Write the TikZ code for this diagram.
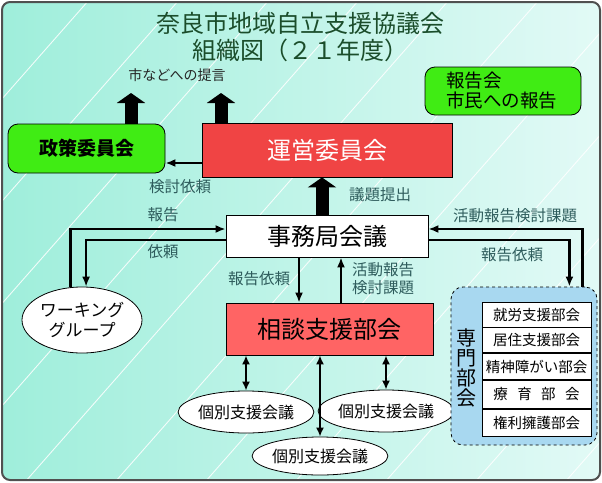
\documentclass[tikz,border=0pt]{standalone}
\usepackage{fontspec}
\newfontfamily\jpfont{Noto Sans CJK JP}
\usetikzlibrary{arrows.meta, positioning, shapes.geometric}
\definecolor{bgLeft}{HTML}{9FEEDB}
\definecolor{bgRight}{HTML}{E2FAF6}
\definecolor{frameGray}{HTML}{505050}
\definecolor{titleGreen}{HTML}{1B4D2B}
\definecolor{labelTeal}{HTML}{2E5C5C}
\definecolor{boxGreen}{HTML}{40EC14}
\definecolor{boxRed}{HTML}{F04444}
\definecolor{boxPink}{HTML}{FF6464}
\definecolor{groupBlue}{HTML}{A8D8F0}

\begin{document}
\begin{tikzpicture}[x=1pt, y=-1pt, font=\jpfont,
  lbl/.style={text=labelTeal, font=\jpfont\fontsize{15.5}{18}\selectfont, inner sep=0pt},
  arr/.style={-{Latex[length=10pt,width=8pt]}, line width=2.6pt},
  darr/.style={{Latex[length=9pt,width=8pt]}-{Latex[length=9pt,width=8pt]}, line width=2.4pt},
  fat/.style={-{Triangle[length=10pt,width=28pt]}, line width=13pt},
  oval/.style={ellipse, draw, fill=white, line width=0.8pt, inner sep=0pt},
  rowbox/.style={draw, fill=white, line width=0.8pt, minimum width=109pt, inner sep=0pt,
    font=\jpfont\fontsize{14.5}{17}\selectfont}]
  \useasboundingbox (0,0) rectangle (602,482);
  % fondo
  \fill[rounded corners=8pt, left color=bgLeft, right color=bgRight] (2,2) rectangle (600,480);
  \begin{scope}
    \clip[rounded corners=8pt] (2,2) rectangle (600,480);
    \foreach \k in {0,...,10}
      \draw[white, line width=0.9pt, opacity=0.85] (-335+\k*90,482) -- ++(424,-482);
  \end{scope}
  \draw[frameGray, line width=2pt, rounded corners=8pt] (2,2) rectangle (600,480);

  % titulo
  \node[text=titleGreen, align=center, font=\jpfont\fontsize{24}{27}\selectfont] (title) at (300,37)
    {奈良市地域自立支援協議会\\組織図（２１年度）};
  \node[font=\jpfont\fontsize{14}{16}\selectfont, text=black!85] (teigen) at (177,75) {市などへの提言};

  % cajas
  \node[draw, fill=boxGreen, rounded corners=10pt, line width=0.8pt, minimum width=157pt, minimum height=49pt,
    font=\jpfont\bfseries\fontsize{19}{22}\selectfont] (seisaku) at (86.5,148.5) {政策委員会};
  \node[draw, fill=boxRed, line width=0.8pt, minimum width=250pt, minimum height=54pt, text=white,
    font=\jpfont\fontsize{24}{27}\selectfont] (unei) at (327,150) {運営委員会};
  \node[draw, fill=boxGreen, rounded corners=10pt, line width=0.8pt, minimum height=48pt,
    text width=114pt, inner xsep=21pt, align=left,
    font=\jpfont\fontsize{18.5}{20}\selectfont] (houkokukai) at (503,91) {報告会\\市民への報告};
  \node[draw, fill=white, line width=0.8pt, minimum width=202pt, minimum height=42pt,
    font=\jpfont\fontsize{24}{27}\selectfont] (jimu) at (327,236) {事務局会議};
  \node[draw, fill=boxPink, line width=0.8pt, minimum width=207pt, minimum height=52pt,
    font=\jpfont\fontsize{24}{27}\selectfont] (soudan) at (329.5,329) {相談支援部会};
  \node[oval, minimum width=120pt, minimum height=66pt, align=center,
    font=\jpfont\fontsize{17}{20}\selectfont] (wg) at (82,320) {ワーキング\\グループ};
  \node[oval, minimum width=118pt, minimum height=42pt, font=\jpfont\fontsize{16}{19}\selectfont] (k1) at (246,412) {個別支援会議};
  \node[oval, minimum width=124pt, minimum height=42pt, font=\jpfont\fontsize{16}{19}\selectfont] (k2) at (386,411) {個別支援会議};
  \node[oval, minimum width=122pt, minimum height=38pt, font=\jpfont\fontsize{16}{19}\selectfont] (k3) at (320,456) {個別支援会議};

  %専門部会
  \node[draw, dashed, fill=groupBlue, rounded corners=12pt, line width=0.8pt,
    minimum width=146pt, minimum height=158pt] (senmon) at (524,366) {};
  \node[align=center, font=\jpfont\fontsize{20}{20}\selectfont] (senmonLbl) at (466,368) {専\\門\\部\\会};
  \node[rowbox, minimum height=25pt] (r1) at (536.5,314.5) {就労支援部会};
  \node[rowbox, minimum height=25pt, below=0pt of r1] (r2) {居住支援部会};
  \node[rowbox, minimum height=26pt, below=0pt of r2] (r3) {精神障がい部会};
  \node[rowbox, minimum height=28pt, below=0pt of r3] (r4) {療\hspace{0.65em}育\hspace{0.65em}部\hspace{0.65em}会};
  \node[rowbox, minimum height=27pt, below=0pt of r4] (r5) {権利擁護部会};

  % flechas gruesas
  \coordinate (tipA) at (131,93);
  \coordinate (tipB) at (221,93);
  \draw[fat] (seisaku.north -| tipA) -- (tipA);
  \draw[fat] (unei.north -| tipB) -- (tipB);
  \draw[fat] ([xshift=-5pt]jimu.north) -- ([xshift=-5pt]unei.south);

  % flechas finas
  \coordinate (kA) at ([yshift=-13pt]unei.west);
  \draw[arr] (kA) -- (kA -| seisaku.east);
  \draw[arr] (wg.109) |- ([yshift=7pt]jimu.west);
  \draw[arr] ([yshift=-4pt]jimu.west) -| (wg.83);
  \draw[arr] ([xshift=-15pt]senmon.north east) |- ([yshift=7pt]jimu.east);
  \draw[arr] ([yshift=-4pt]jimu.east) -| ([xshift=-28pt]senmon.north east);
  \coordinate (dA) at ([xshift=-28pt]jimu.south);
  \coordinate (uA) at ([xshift=14pt]jimu.south);
  \draw[arr] (dA) -- (dA |- soudan.north);
  \draw[arr] (uA |- soudan.north) -- (uA);
  \draw[darr] (k1.north |- soudan.south) -- (k1.north);
  \draw[darr] (k3.north |- soudan.south) -- (k3.north);
  \draw[darr] (k2.north |- soudan.south) -- (k2.north);

  % etiquetas
  \node[lbl] (lKentou) at (180,187) {検討依頼};
  \node[lbl] (lGidai) at (380,195) {議題提出};
  \node[lbl] (lHoukoku) at (163,215) {報告};
  \node[lbl] (lIrai) at (163,252) {依頼};
  \node[lbl] (lKatsudoR) at (515,216) {活動報告検討課題};
  \node[lbl] (lHIraiR) at (512,255) {報告依頼};
  \node[lbl] (lHIraiM) at (259,279) {報告依頼};
  \node[lbl, align=left] (lKatsudoM) at (383,279) {活動報告\\検討課題};
\end{tikzpicture}
\end{document}
